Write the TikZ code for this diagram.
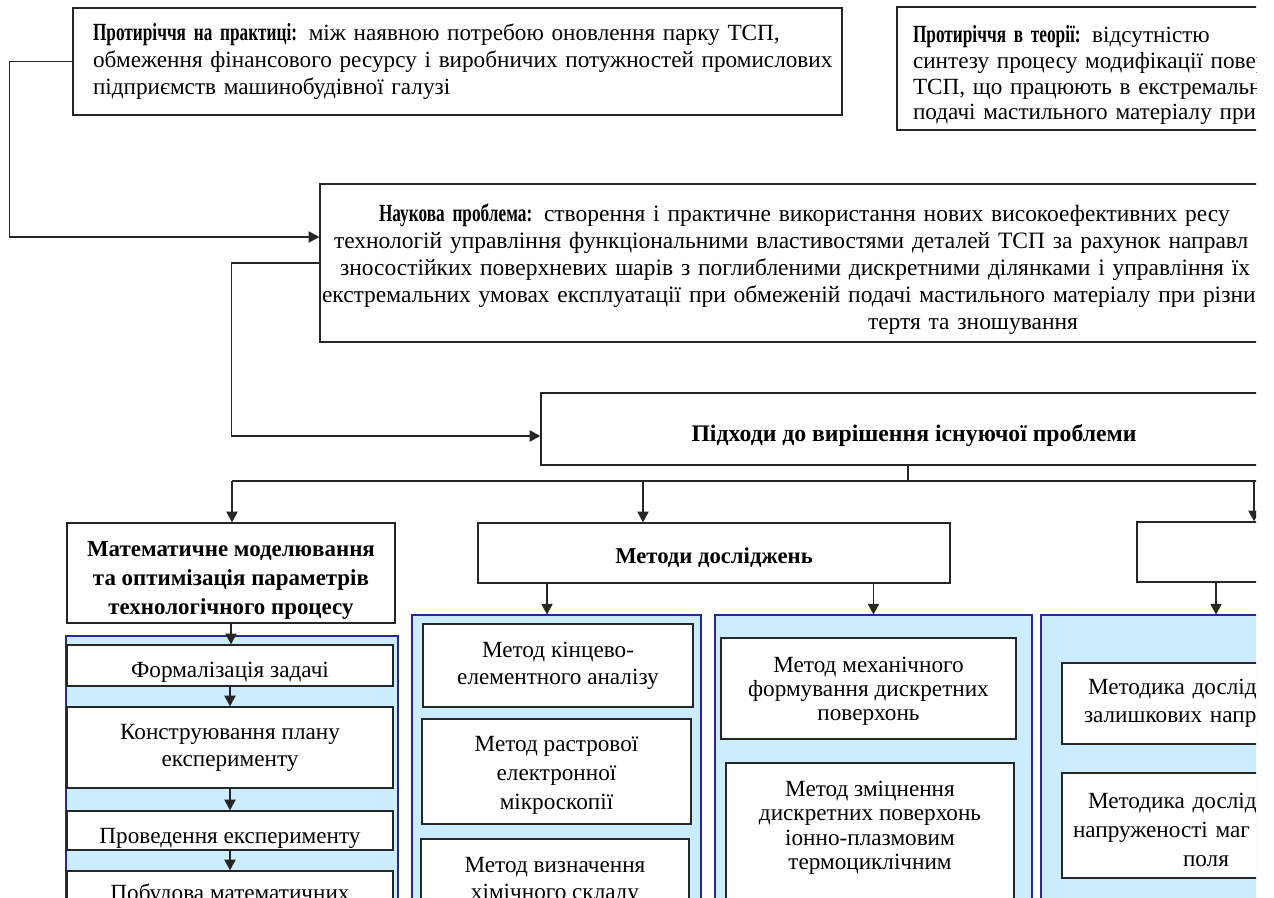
\documentclass[tikz,border=0pt]{standalone}
\usepackage{fontspec}
\setmainfont{Liberation Serif}
\newfontfamily\condfont[FakeStretch=0.70]{Liberation Serif}
\usetikzlibrary{arrows.meta}
\definecolor{panfill}{RGB}{204,236,255}
\definecolor{panline}{RGB}{40,40,150}
\newcommand{\dn}[1]{\rule{0pt}{#1}}
\newcommand{\hd}[1]{{\condfont\bfseries\fontsize{18.5}{20.25}\selectfont #1}}
\tikzset{
  box/.style={draw=black!85, line width=1.1pt, fill=white, inner xsep=1.5pt, inner ysep=0pt,
    font=\fontsize{17.4}{20.25}\selectfont},
  bbox/.style={box, font=\fontsize{17.4}{20.25}\selectfont\bfseries},
  txt/.style={inner sep=0pt, font=\fontsize{17.4}{20.25}\selectfont},
  pan/.style={draw=panline, line width=0.8pt, fill=panfill},
  conn/.style={line width=1pt, draw=black!85},
  arr/.style={conn, -{Triangle[length=8pt,width=8.5pt]}},
}
\begin{document}
\begin{tikzpicture}[x=0.75pt,y=-0.75pt]
\useasboundingbox (0,0) rectangle (1274,898);
\begin{scope}
\clip (0,0) rectangle (1256,898);
% top boxes
\node[box, align=left, minimum width=769*0.75pt, minimum height=107*0.75pt, text width=573.75pt] (p1) at (457.5,61.5)
 {\dn{13.5pt}\hspace*{13.5pt}\mbox{\hd{Протиріччя на практиці:} між наявною потребою оновлення парку ТСП,}\\
  \hspace*{13.5pt}\mbox{обмеження фінансового ресурсу і виробничих потужностей промислових}\\
  \hspace*{13.5pt}\mbox{підприємств машинобудівної галузі}};
\node[box, align=left, minimum width=503*0.75pt, minimum height=123*0.75pt, text width=374.25pt, font=\fontsize{17.4}{19.3}\selectfont] (th) at (1148.5,68.5)
 {\dn{23pt}\hspace*{10.5pt}\mbox{\hd{Протиріччя в теорії:} відсутністю}\\
  \hspace*{10.5pt}\mbox{синтезу процесу модифікації повер}\\
  \hspace*{10.5pt}\mbox{ТСП, що працюють в екстремальн}\\
  \hspace*{10.5pt}\mbox{подачі мастильного матеріалу при}};
\node[box, align=left, minimum width=1180*0.75pt, minimum height=158*0.75pt, text width=882pt, font=\fontsize{17.6}{20.25}\selectfont] (prob) at (910,263)
 {\dn{22.5pt}\hspace*{42.75pt}\mbox{\hd{Наукова проблема:} створення і практичне використання нових високоефективних ресу}\\
  \hspace*{9pt}\mbox{технологій управління функціональними властивостями деталей ТСП за рахунок направл}\\
  \hspace*{13.5pt}\mbox{зносостійких поверхневих шарів з поглибленими дискретними ділянками і управління їх}\\
  \mbox{екстремальних умовах експлуатації при обмеженій подачі мастильного матеріалу при різни}\\
  \hspace*{409.5pt}\mbox{тертя та зношування}};
\node[bbox, minimum width=746*0.75pt, minimum height=72*0.75pt, font=\fontsize{17.8}{20.25}\selectfont\bfseries] (app) at (914,429) {\dn{22.5pt}Підходи до вирішення існуючої проблеми};
% second level
\node[bbox, align=center, minimum width=328*0.75pt, minimum height=100*0.75pt, font=\fontsize{17.2}{21.4}\selectfont\bfseries] (math) at (231,573)
 {\dn{22.5pt}Математичне моделювання\\та оптимізація параметрів\\технологічного процесу};
\node[bbox, minimum width=472*0.75pt, minimum height=60*0.75pt, font=\fontsize{17}{20.25}\selectfont\bfseries] (meth) at (714,553) {\dn{18pt}Методи досліджень};
\node[box, minimum width=263*0.75pt, minimum height=60*0.75pt] (rbox) at (1268.5,552) {};
% panels
\node[pan, minimum width=332*0.75pt, minimum height=364*0.75pt] (panL) at (232,818) {};
\node[pan, minimum width=289*0.75pt, minimum height=385*0.75pt] (panA) at (556.5,807.5) {};
\node[pan, minimum width=317*0.75pt, minimum height=385*0.75pt] (panB) at (873.5,807.5) {};
\node[pan, minimum width=359*0.75pt, minimum height=385*0.75pt] (panC) at (1220.5,807.5) {};
% left panel boxes
\node[box, minimum width=326*0.75pt, minimum height=41*0.75pt] (f1) at (230,665.5) {\dn{22pt}Формалізація задачі};
\node[box, align=center, minimum width=326*0.75pt, minimum height=81*0.75pt] (f2) at (230,747.5) {Конструювання плану\\експерименту};
\node[box, minimum width=326*0.75pt, minimum height=39*0.75pt] (f3) at (230,830.5) {\dn{23pt}Проведення експерименту};
\node[box, minimum width=326*0.75pt, minimum height=80*0.75pt] (f4) at (230,911) {};
\node[txt, anchor=north] (f4t) at (230,884) {Побудова математичних};
% panel A boxes
\node[box, align=center, minimum width=270*0.75pt, minimum height=83*0.75pt] (a1) at (558,665.5) {Метод кінцево-\\елементного аналізу};
\node[box, align=center, minimum width=269*0.75pt, minimum height=105*0.75pt, font=\fontsize{17.4}{21.75}\selectfont] (a2) at (556.5,771.5) {\dn{16.5pt}Метод растрової\\електронної\\мікроскопії};
\node[box, align=center, minimum width=268*0.75pt, minimum height=84*0.75pt] (a3) at (555,881) {Метод визначення\\хімічного складу};
% panel B boxes
\node[box, align=center, minimum width=295*0.75pt, minimum height=101*0.75pt, font=\fontsize{17.4}{18}\selectfont] (b1) at (868.5,688.5) {\dn{15.5pt}Метод механічного\\формування дискретних\\поверхонь};
\node[box, minimum width=288*0.75pt, minimum height=200*0.75pt] (b2) at (870,863) {};
\node[txt, anchor=north, align=center, font=\fontsize{17.4}{18.25}\selectfont] (b2t) at (870,781) {Метод зміцнення\\дискретних поверхонь\\іонно-плазмовим\\термоциклічним};
% panel C boxes
\node[box, align=left, minimum width=300*0.75pt, minimum height=81*0.75pt, text width=222pt, font=\fontsize{17.4}{21}\selectfont] (c1) at (1212,703.5)
 {\hspace*{18pt}\mbox{Методика дослід}\\\hspace*{15pt}\mbox{залишкових напр}};
\node[box, align=left, minimum width=300*0.75pt, minimum height=105*0.75pt, text width=222pt, font=\fontsize{17.4}{21.5}\selectfont] (c2) at (1212,825.5)
 {\dn{18pt}\hspace*{18pt}\mbox{Методика дослід}\\\hspace*{6.75pt}\mbox{напруженості маг}\\\hspace*{89.25pt}поля};
% connectors
\draw[arr] (p1.west) -- ++(-63,0) |- ([yshift=19.5pt]prob.west);
\draw[arr] (prob.west) -- ++(-88,0) |- ([yshift=-5.25pt]app.west);
\draw[conn] ([xshift=-4.5pt]app.south) -- ++(0,16) coordinate (bm);
\coordinate (bL) at (232,481);
\coordinate (bR) at (1300,481);
\draw[conn] (bL) -- (bR);
\draw[arr] (bL) -- (bL |- math.north);
\coordinate (b2c) at (643,481);
\draw[arr] (b2c) -- (b2c |- meth.north);
\coordinate (b3c) at (1254,481);
\draw[arr] (b3c) -- (b3c |- rbox.north);
\coordinate (xa) at (547,0);
\draw[arr] (meth.south -| xa) -- (panA.north -| xa);
\draw[arr] (meth.south -| panB.north) -- (panB.north);
\coordinate (xc) at (1216,0);
\draw[arr] (rbox.south -| xc) -- (panC.north -| xc);
\draw[arr] (math.south) -- (math.south |- f1.north);
\draw[arr] (f1.south) -- (f2.north);
\draw[arr] (f2.south) -- (f3.north);
\draw[arr] (f3.south) -- (f4.north);
\end{scope}
\end{tikzpicture}
\end{document}
